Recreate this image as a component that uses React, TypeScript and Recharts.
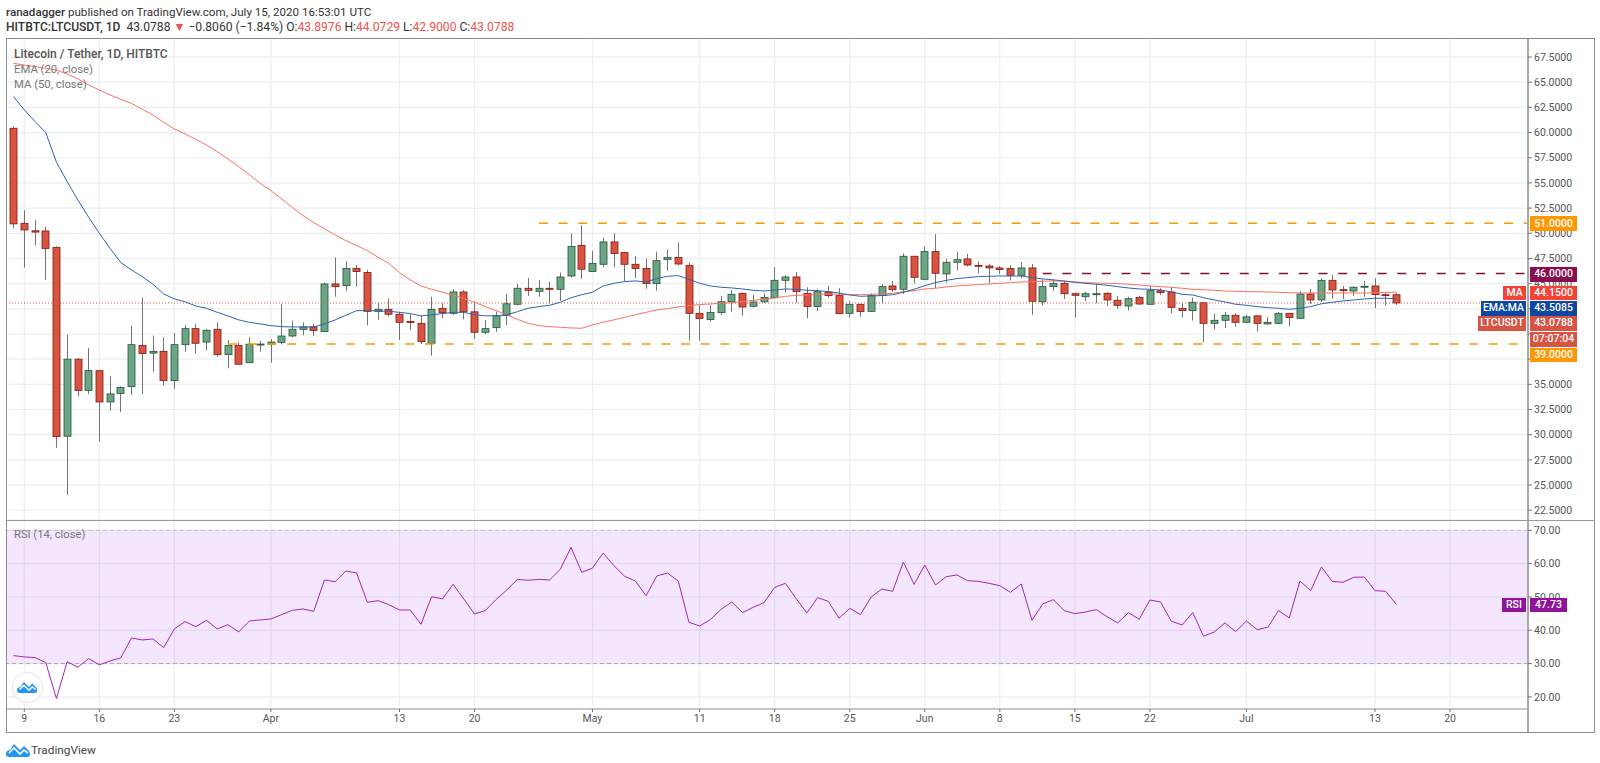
import { Bar, CartesianGrid, ComposedChart, Line, ReferenceArea, ReferenceLine, XAxis, YAxis } from "recharts";

// daily candles, 8 Mar - 15 Jul 2020, grouped by month
const opens = [
  60.43, 50.99, 50.25, 50.23, 48.6, 29.85, 37.5, 34.4, 36.36, 33.25, 34.1, 34.77, 38.85, 38.1, 38.28, 35.37, 38.94, 40.53, 39.2, 40.47, 37.95, 38.85, 37.15, 38.93,
  39.0, 39.17, 39.8, 40.45, 40.7, 40.23, 44.97, 44.8, 46.5, 46.1, 42.25, 42.45, 41.96, 41.25, 41.06, 39.08, 42.55, 42.05, 44.17, 42.2, 40.17, 40.63, 41.83, 42.95, 44.54, 44.24, 44.54, 44.44, 45.76, 48.8,
  46.2, 46.92, 49.14, 48.08, 46.92, 46.5, 45.0, 47.38, 47.6, 46.82, 42.05, 41.43, 42.12, 43.2, 44.04, 42.75, 43.2, 43.6, 45.33, 45.66, 44.04, 42.72, 44.17, 43.81, 42.05, 42.95, 42.25, 43.81, 44.77, 44.44, 47.72,
  45.43, 48.18, 45.96, 47.12, 47.45, 46.82, 46.75, 46.56, 46.5, 45.83, 46.56, 43.2, 44.7, 45.03, 44.0, 43.7, 43.9, 44.04, 43.35, 42.78, 43.64, 42.95, 44.3, 44.17, 42.55, 42.32, 43.1, 41.06, 41.36, 41.86,
  41.16, 41.8, 41.0, 41.06, 42.05, 41.56, 43.97, 43.38, 45.33, 44.4, 44.27, 44.7, 44.77, 43.9, 43.8976,
];
const highs = [
  60.6, 52.3, 51.3, 50.66, 48.7, 39.97, 37.6, 38.6, 36.4, 35.8, 34.8, 40.83, 43.64, 39.84, 39.67, 40.07, 40.9, 41.0, 40.47, 41.16, 39.4, 39.14, 39.67, 39.3,
  39.5, 43.0, 41.3, 41.16, 41.0, 45.1, 47.6, 47.2, 46.85, 46.35, 43.1, 43.55, 42.2, 41.96, 41.8, 43.7, 43.05, 44.44, 44.37, 43.2, 41.4, 42.2, 43.97, 44.97, 45.56, 45.37, 45.2, 46.1, 50.0, 50.8,
  48.25, 49.57, 50.0, 48.1, 47.75, 47.48, 48.18, 48.4, 49.1, 47.1, 42.85, 42.88, 43.78, 44.37, 44.1, 43.88, 44.04, 46.62, 45.83, 46.16, 44.64, 44.44, 44.77, 44.54, 43.28, 43.0, 44.04, 44.94, 45.27, 48.0, 47.75,
  48.68, 49.9, 47.48, 48.15, 47.95, 47.2, 46.95, 46.75, 46.82, 47.15, 46.95, 45.43, 45.43, 45.2, 44.1, 44.2, 44.97, 44.17, 43.78, 43.7, 43.78, 44.77, 44.54, 44.64, 43.05, 43.6, 43.15, 42.05, 42.2, 42.05,
  41.9, 41.86, 41.7, 42.2, 42.1, 44.27, 44.47, 45.53, 45.86, 44.77, 44.74, 45.27, 45.53, 44.1, 44.0729,
];
const lows = [
  50.5, 46.6, 48.8, 45.37, 28.7, 24.0, 33.8, 34.05, 29.3, 32.4, 32.26, 33.95, 34.05, 36.26, 34.87, 34.57, 38.2, 38.05, 38.38, 37.75, 36.6, 36.96, 37.1, 38.25,
  37.15, 38.97, 39.67, 39.87, 39.8, 40.2, 43.7, 44.24, 44.7, 40.86, 41.43, 41.75, 39.4, 40.4, 39.0, 37.85, 41.56, 41.9, 41.46, 39.5, 39.97, 40.2, 40.9, 42.85, 43.78, 43.7, 43.05, 43.3, 45.6, 45.47,
  46.15, 46.62, 46.62, 45.2, 45.56, 44.5, 44.3, 46.26, 46.82, 39.34, 39.34, 41.23, 41.9, 42.2, 41.82, 42.65, 43.1, 43.55, 44.1, 43.1, 41.56, 42.29, 43.6, 42.0, 41.63, 41.72, 42.2, 43.05, 44.2, 43.97, 45.03,
  45.4, 44.54, 45.1, 46.3, 46.7, 46.03, 45.03, 45.96, 45.3, 45.53, 41.9, 42.82, 44.3, 43.48, 41.66, 43.25, 43.05, 42.78, 42.49, 42.32, 42.88, 42.9, 43.88, 42.05, 41.66, 41.33, 39.18, 40.47, 40.6, 40.73,
  41.1, 40.23, 40.9, 41.0, 40.73, 41.5, 42.98, 43.2, 43.5, 43.45, 43.78, 43.7, 42.55, 42.82, 42.9,
];
const closes = [
  50.93, 50.33, 50.12, 48.5, 29.8, 37.5, 34.4, 36.36, 33.25, 34.05, 34.7, 38.94, 38.05, 38.28, 35.37, 38.94, 40.53, 39.08, 40.37, 37.95, 38.85, 37.0, 38.98, 39.0,
  39.2, 39.8, 40.47, 40.7, 40.34, 44.97, 44.7, 46.5, 46.2, 42.25, 42.45, 41.96, 41.16, 41.15, 39.24, 42.45, 42.12, 44.17, 42.2, 40.17, 40.53, 41.8, 43.0, 44.54, 44.34, 44.54, 44.44, 45.66, 48.7, 46.43,
  47.02, 49.14, 48.0, 46.92, 46.5, 45.0, 47.28, 47.6, 46.95, 42.05, 41.53, 42.15, 43.2, 43.94, 42.68, 43.18, 43.64, 45.33, 45.66, 44.2, 42.72, 44.2, 43.81, 42.02, 42.95, 42.22, 43.81, 44.7, 44.4, 47.72, 45.63,
  48.18, 46.03, 47.12, 47.38, 46.85, 46.75, 46.56, 46.4, 45.83, 46.56, 43.25, 44.7, 45.03, 44.0, 43.84, 44.0, 44.0, 43.38, 42.85, 43.5, 42.98, 44.3, 44.1, 42.65, 42.32, 43.15, 41.06, 41.36, 41.86, 41.16,
  41.7, 41.06, 41.16, 42.05, 41.63, 43.97, 43.38, 45.33, 44.37, 44.3, 44.64, 44.74, 43.91, 43.88, 43.0788,
];
const ema20 = [
  63.57, 62.25, 61.1, 60.0, 57.05, 55.13, 53.3, 51.6, 50.0, 48.5, 47.09, 46.36, 45.7, 44.94, 43.98, 43.48, 43.2, 42.78, 42.55, 42.15, 41.8, 41.4, 41.16, 41.0,
  40.83, 40.73, 40.7, 40.7, 40.7, 41.0, 41.4, 41.86, 42.32, 42.32, 42.29, 42.25, 42.15, 42.02, 41.8, 41.9, 42.02, 42.15, 42.15, 41.92, 41.8, 41.82, 41.9, 42.22, 42.55, 42.72, 42.85, 43.15, 43.6, 43.9,
  44.14, 44.77, 45.03, 45.2, 45.27, 45.17, 45.5, 45.73, 45.8, 45.43, 45.03, 44.77, 44.64, 44.57, 44.47, 44.34, 44.27, 44.37, 44.47, 44.44, 44.34, 44.3, 44.2, 44.07, 43.88, 43.74, 43.78, 43.81, 43.9, 44.14, 44.44,
  44.8, 45.1, 45.33, 45.5, 45.6, 45.7, 45.73, 45.76, 45.76, 45.76, 45.6, 45.47, 45.37, 45.27, 45.13, 45.03, 44.94, 44.84, 44.7, 44.57, 44.47, 44.44, 44.37, 44.17, 43.94, 43.87, 43.6, 43.38, 43.18, 42.95,
  42.85, 42.72, 42.62, 42.55, 42.45, 42.55, 42.72, 43.0, 43.15, 43.28, 43.38, 43.48, 43.55, 43.55, 43.5085,
];
const ma50 = [
  66.88, 66.7, 66.55, 66.38, 66.2, 65.82, 65.33, 64.73, 64.23, 63.74, 63.3, 62.9, 62.31, 61.75, 61.02, 60.36, 59.86, 59.33, 58.77, 58.1, 57.38, 56.62, 55.8, 54.97,
  54.24, 53.41, 52.58, 51.75, 51.06, 50.46, 49.83, 49.27, 48.78, 48.28, 47.62, 47.02, 46.09, 45.37, 44.77, 44.44, 44.14, 43.88, 43.51, 43.15, 42.72, 42.32, 41.9, 41.46, 41.06, 40.83, 40.73, 40.67, 40.6, 40.57,
  40.9, 41.16, 41.4, 41.66, 41.9, 42.15, 42.39, 42.52, 42.68, 42.82, 42.92, 42.98, 43.05, 43.12, 43.2, 43.35, 43.45, 43.58, 43.74, 43.84, 43.88, 43.94, 43.97, 43.94, 43.9, 43.9, 43.94, 43.97, 44.04, 44.2, 44.3,
  44.47, 44.54, 44.67, 44.77, 44.84, 44.9, 44.97, 45.03, 45.1, 45.17, 45.2, 45.23, 45.27, 45.23, 45.17, 45.1, 45.07, 45.03, 45.0, 44.94, 44.87, 44.77, 44.7, 44.64, 44.54, 44.44, 44.4, 44.34, 44.27, 44.24,
  44.2, 44.2, 44.17, 44.14, 44.1, 44.07, 44.07, 44.07, 44.07, 44.07, 44.07, 44.07, 44.1, 44.12, 44.15,
];
const rsi14 = [
  32.4, 32.0, 31.8, 30.3, 19.5, 30.6, 28.9, 31.5, 29.6, 30.8, 31.7, 37.7, 37.1, 37.4, 34.8, 40.4, 42.6, 41.1, 43.0, 40.4, 41.7, 39.5, 42.8, 43.1,
  43.4, 44.7, 46.0, 46.4, 45.7, 55.1, 54.6, 57.8, 57.2, 48.4, 48.9, 47.7, 46.1, 46.1, 41.8, 50.1, 49.4, 53.8, 49.4, 44.9, 45.9, 49.2, 52.1, 55.3, 55.0, 55.3, 55.1, 58.3, 64.9, 57.4,
  58.7, 63.2, 59.4, 56.2, 54.8, 50.4, 56.3, 57.2, 54.8, 42.4, 41.3, 43.2, 46.3, 48.5, 45.3, 46.9, 48.3, 52.9, 54.1, 49.5, 45.2, 49.8, 48.7, 43.6, 46.6, 44.7, 50.0, 52.4, 51.7, 60.5, 53.8,
  59.6, 53.6, 56.1, 56.6, 54.9, 54.7, 54.1, 53.4, 51.4, 53.9, 43.0, 47.9, 49.2, 45.9, 45.0, 45.5, 46.2, 44.1, 42.2, 45.3, 43.3, 49.1, 48.5, 42.7, 41.6, 45.3, 38.2, 39.5, 42.2, 39.6,
  42.8, 40.2, 40.9, 45.9, 43.7, 54.8, 51.9, 59.0, 54.7, 54.4, 55.9, 56.0, 51.9, 51.7, 47.73,
];

const dayTicks = [1, 8, 15, 24, 36, 43, 54, 64, 71, 78, 85, 92, 99, 106, 115, 127, 134];
const dayLabels = ["9", "16", "23", "Apr", "13", "20", "May", "11", "18", "25", "Jun", "8", "15", "22", "Jul", "13", "20"];
const priceTicks = [22.5, 25, 27.5, 30, 32.5, 35, 37.5, 40, 42.5, 45, 47.5, 50, 52.5, 55, 57.5, 60, 62.5, 65, 67.5];
// these sit fully behind the price tags in the picture, only their grid lines show
const coveredPriceTicks = [37.5, 40, 42.5];
const rsiTicks = [20, 30, 40, 50, 60, 70];

const rows = closes.map((close, i) => ({
  i,
  open: opens[i],
  high: highs[i],
  low: lows[i],
  close,
  range: [lows[i], highs[i]],
  ema: ema20[i],
  ma: ma50[i],
  rsi: rsi14[i],
}));

const FONT = "Roboto, sans-serif";
const X_DOMAIN: [number, number] = [-0.707, 141.27];

function Candle(props: any) {
  const { x, y, width, height, payload } = props;
  const cx = Math.round(x + width / 2) + 0.5;
  const perUnit = height / (payload.high - payload.low);
  const top = y + (payload.high - Math.max(payload.open, payload.close)) * perUnit;
  const bottom = y + (payload.high - Math.min(payload.open, payload.close)) * perUnit;
  const up = payload.close >= payload.open;
  return (
    <g>
      <line x1={cx} x2={cx} y1={y} y2={y + height} stroke="#737375" strokeWidth={1} />
      <rect
        x={cx - 3.5}
        y={top}
        width={7}
        height={Math.max(bottom - top, 1)}
        fill={up ? "#6ba583" : "#d75442"}
        stroke={up ? "#225437" : "#8a150c"}
        strokeWidth={0.8}
      />
    </g>
  );
}

function Tag({ left, right, top, bottom, bg, children }: any) {
  return (
    <div
      style={{
        position: "absolute",
        left,
        top,
        width: right - left,
        height: bottom - top,
        lineHeight: `${bottom - top}px`,
        background: bg,
        color: "#fff",
        fontFamily: FONT,
        fontSize: 10.5,
        fontWeight: 500,
        textAlign: "center",
      }}
    >
      {children}
    </div>
  );
}

function Logo({ x, y, scale = 1 }: any) {
  return (
    <svg style={{ position: "absolute", left: x, top: y }} width={24 * scale} height={14 * scale} viewBox="0 0 24 14">
      <path d="M0 11 C0 8 2 7 4 7 L8 1 L14 7 L18 3 L22 7 C23 8 24 9 24 11 C24 13 23 14 21 14 L3 14 C1 14 0 13 0 11 Z" fill="#2196f3" />
      <path d="M3 10 L8 5 L14 11 L18 7 L22 10" fill="none" stroke="#fff" strokeWidth={1.6} />
    </svg>
  );
}

export default function App() {
  return (
    <div style={{ position: "absolute", left: 0, top: 0, width: 1600, height: 763, background: "#fff", overflow: "hidden" }}>
      <div style={{ position: "absolute", left: 6, top: 5, fontFamily: FONT, fontSize: 11.6, color: "#333", whiteSpace: "nowrap" }}>
        <b style={{ fontWeight: 500 }}>ranadagger</b> published on TradingView.com, July 15, 2020 16:53:01 UTC
      </div>
      <div style={{ position: "absolute", left: 6, top: 20, fontFamily: FONT, fontSize: 12.1, color: "#333", whiteSpace: "nowrap" }}>
        <b style={{ fontWeight: 500 }}>HITBTC:LTCUSDT, 1D</b>&nbsp; 43.0788 <span style={{ color: "#ef5350" }}>▼</span> −0.8060 (−1.84%) O:
        <span style={{ color: "#ef5350" }}>43.8976</span> H:<span style={{ color: "#ef5350" }}>44.0729</span> L:
        <span style={{ color: "#ef5350" }}>42.9000</span> C:<span style={{ color: "#ef5350" }}>43.0788</span>
      </div>

      <div style={{ position: "absolute", left: 6, top: 38 }}>
        <ComposedChart width={1589} height={482} data={rows} margin={{ top: 0, right: 0, bottom: 0, left: 0 }}>
          <CartesianGrid stroke="#eceef2" strokeWidth={1.2} />
          <XAxis type="number" dataKey="i" domain={X_DOMAIN} ticks={dayTicks} hide allowDataOverflow />
          <YAxis
            orientation="right"
            width={67}
            domain={[21.53, 69.39]}
            ticks={priceTicks}
            interval={0}
            allowDataOverflow
            tickFormatter={(v: number) => (coveredPriceTicks.includes(v) ? "" : v.toFixed(4))}
            tick={{ fontFamily: FONT, fontSize: 10.5, fill: "#555" }}
            tickLine={{ stroke: "#777" }}
            tickSize={4}
            axisLine={{ stroke: "#a8a8a8", strokeWidth: 2 }}
          />
          <ReferenceLine y={43.0788} stroke="#d75442" strokeDasharray="1 2" />
          <ReferenceLine segment={[{ x: 49, y: 51 }, { x: 141.27, y: 51 }]} stroke="#ff9800" strokeWidth={1.4} strokeDasharray="9 10.7" />
          <ReferenceLine segment={[{ x: 20, y: 39 }, { x: 141.27, y: 39 }]} stroke="#ff9800" strokeWidth={1.4} strokeDasharray="9 10.7" />
          <ReferenceLine segment={[{ x: 96, y: 46 }, { x: 141.27, y: 46 }]} stroke="#7b1230" strokeWidth={1.4} strokeDasharray="9 10.7" />
          <Bar dataKey="range" barSize={8} shape={<Candle />} isAnimationActive={false} />
          <Line dataKey="ma" type="linear" stroke="#ff6f61" strokeWidth={1} dot={false} isAnimationActive={false} />
          <Line dataKey="ema" type="linear" stroke="#2f62b5" strokeWidth={1} dot={false} isAnimationActive={false} />
        </ComposedChart>
      </div>

      <div style={{ position: "absolute", left: 6, top: 520 }}>
        <ComposedChart width={1589} height={213} data={rows} margin={{ top: 0, right: 0, bottom: 0, left: 0 }}>
          <CartesianGrid stroke="#eceef2" strokeWidth={1.2} />
          <XAxis
            type="number"
            dataKey="i"
            domain={X_DOMAIN}
            ticks={dayTicks}
            interval={0}
            height={24}
            allowDataOverflow
            tickFormatter={(v: number) => dayLabels[dayTicks.indexOf(v)]}
            tick={{ fontFamily: FONT, fontSize: 10.5, fill: "#555" }}
            tickLine={{ stroke: "#777" }}
            tickSize={3}
            tickMargin={3}
            axisLine={{ stroke: "#999", strokeWidth: 1 }}
          />
          <YAxis
            orientation="right"
            width={67}
            domain={[16.36, 73.12]}
            ticks={rsiTicks}
            interval={0}
            allowDataOverflow
            tickFormatter={(v: number) => v.toFixed(2)}
            tick={{ fontFamily: FONT, fontSize: 10.5, fill: "#555" }}
            tickLine={{ stroke: "#777" }}
            tickSize={4}
            axisLine={{ stroke: "#a8a8a8", strokeWidth: 2 }}
          />
          <ReferenceArea y1={30} y2={70} fill="rgb(145,5,245)" fillOpacity={0.1} stroke="none" />
          <ReferenceLine y={70} stroke="#c8c0cc" strokeDasharray="4 3" />
          <ReferenceLine y={30} stroke="#aaa" strokeDasharray="4 3" />
          <Line dataKey="rsi" type="linear" stroke="#a426b8" strokeWidth={1} dot={false} isAnimationActive={false} />
        </ComposedChart>
      </div>

      <div style={{ position: "absolute", left: 6, top: 38, width: 1587, height: 693, border: "1px solid #8c8c8c", pointerEvents: "none" }} />
      <div style={{ position: "absolute", left: 6, top: 520, width: 1589, height: 1, background: "#999" }} />
      <div style={{ position: "absolute", left: 1527, top: 709, width: 2, height: 23, background: "#a8a8a8" }} />

      <div style={{ position: "absolute", left: 14, top: 47, fontFamily: FONT, fontSize: 12, fontWeight: 500, color: "#555" }}>Litecoin / Tether, 1D, HITBTC</div>
      <div style={{ position: "absolute", left: 14, top: 63, fontFamily: FONT, fontSize: 11.3, color: "#777" }}>EMA (20, close)</div>
      <div style={{ position: "absolute", left: 14, top: 78, fontFamily: FONT, fontSize: 11.3, color: "#777" }}>MA (50, close)</div>
      <div style={{ position: "absolute", left: 14, top: 528, fontFamily: FONT, fontSize: 11.2, color: "#777" }}>RSI (14, close)</div>

      <Tag left={1530} right={1577} top={216} bottom={231} bg="#ff9800">51.0000</Tag>
      <Tag left={1530} right={1577} top={267} bottom={281.5} bg="#880e4f">46.0000</Tag>
      <Tag left={1503} right={1526} top={285.5} bottom={300} bg="#f44336">MA</Tag>
      <Tag left={1530} right={1577} top={285.5} bottom={300} bg="#f44336">44.1500</Tag>
      <Tag left={1481} right={1526} top={301} bottom={315.5} bg="#0d47a1">EMA:MA</Tag>
      <Tag left={1530} right={1577} top={301} bottom={315.5} bg="#0d47a1">43.5085</Tag>
      <Tag left={1478} right={1526} top={316} bottom={330.5} bg="#d75442">LTCUSDT</Tag>
      <Tag left={1530} right={1577} top={316} bottom={330.5} bg="#d75442">43.0788</Tag>
      <Tag left={1530} right={1577} top={332} bottom={346.5} bg="#d75442">07:07:04</Tag>
      <Tag left={1530} right={1577} top={348} bottom={362} bg="#ff9800">39.0000</Tag>
      <Tag left={1502} right={1526} top={597.5} bottom={612} bg="#8e1599">RSI</Tag>
      <Tag left={1530} right={1567} top={597.5} bottom={612} bg="#8e1599">47.73</Tag>

      <div style={{ position: "absolute", left: 12, top: 672, width: 29, height: 29, borderRadius: 15, background: "#fff", border: "1px solid #e4e4e4" }} />
      <Logo x={17} y={681} scale={0.85} />
      <Logo x={6} y={743} />
      <div style={{ position: "absolute", left: 31, top: 743, fontFamily: FONT, fontSize: 11.8, color: "#444" }}>TradingView</div>
    </div>
  );
}
